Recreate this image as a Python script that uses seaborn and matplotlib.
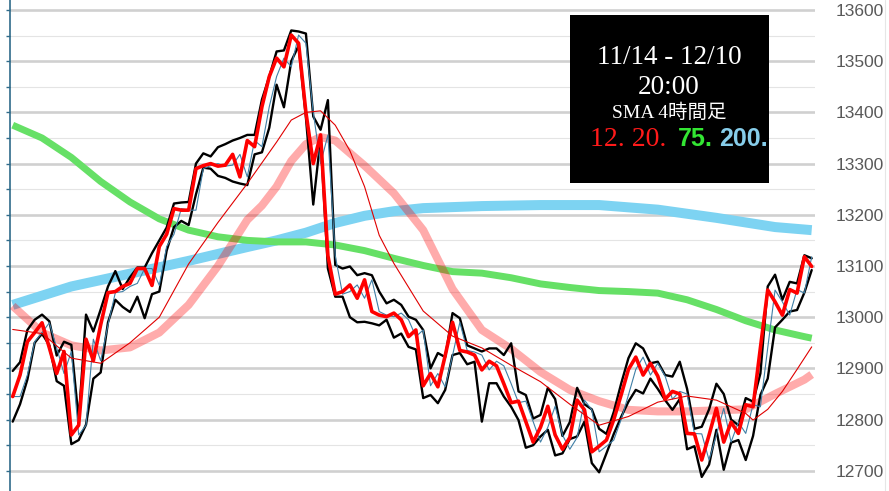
import matplotlib
matplotlib.use("Agg")
import numpy as np
import pandas as pd
import matplotlib.pyplot as plt
import seaborn as sns
from matplotlib.ticker import MultipleLocator
from matplotlib.patches import Rectangle
from matplotlib.lines import Line2D

# 4h bars, 11/14 - 12/10
close = [12845, 12887, 12952, 12970, 12989, 12940, 12890, 12933, 12770, 12789,
         12957, 12915, 12985, 13048, 13050, 13060, 13066, 13095, 13095, 13062,
         13138, 13162, 13212, 13209, 13209, 13290, 13296, 13300, 13295, 13297,
         13318, 13274, 13345, 13333, 13411, 13470, 13506, 13489, 13551, 13535,
         13400, 13300, 13356, 13120, 13045, 13050, 13063, 13037, 13073, 13011,
         13004, 13001, 13008, 12995, 12962, 12975, 12866, 12890, 12864, 12925,
         12990, 12935, 12932, 12926, 12897, 12914, 12905, 12870, 12833, 12836,
         12796, 12756, 12785, 12826, 12770, 12742, 12765, 12838, 12819, 12737,
         12748, 12760, 12800, 12848, 12898, 12922, 12887, 12910, 12885, 12840,
         12855, 12850, 12773, 12772, 12721, 12770, 12822, 12756, 12795, 12773,
         12829, 12825, 12940, 13053, 13030, 13004, 13054, 13047, 13118, 13099]

high = [12895, 12912, 12975, 12995, 13005, 12992, 12925, 12952, 12946, 12800,
        13005, 12972, 13015, 13060, 13090, 13055, 13078, 13097, 13097, 13125,
        13150, 13175, 13222, 13224, 13225, 13300, 13320, 13314, 13332, 13338,
        13345, 13350, 13356, 13356, 13425, 13470, 13519, 13521, 13560, 13558,
        13554, 13392, 13366, 13424, 13102, 13095, 13099, 13082, 13086, 13082,
        13050, 13027, 13034, 13024, 13001, 12995, 12975, 12900, 12930, 12922,
        13008, 12998, 12945, 12939, 12933, 12939, 12939, 12926, 12949, 12855,
        12848, 12802, 12809, 12862, 12840, 12768, 12795, 12862, 12830, 12820,
        12782, 12772, 12815, 12870, 12920, 12949, 12939, 12910, 12913, 12887,
        12884, 12913, 12860, 12782, 12786, 12820, 12870, 12850, 12800, 12789,
        12842, 12835, 12890, 13060, 13083, 13034, 13069, 13066, 13121, 13115]

low = [12796, 12830, 12878, 12950, 12968, 12945, 12875, 12866, 12752, 12760,
       12790, 12880, 12892, 12990, 13034, 13020, 13010, 13040, 12998, 13045,
       13050, 13130, 13176, 13188, 13180, 13240, 13292, 13290, 13276, 13272,
       13265, 13261, 13258, 13318, 13322, 13370, 13454, 13410, 13500, 13530,
       13390, 13220, 13350, 13095, 13040, 13040, 13000, 12990, 12991, 12988,
       12984, 12995, 12960, 12968, 12942, 12937, 12842, 12848, 12832, 12858,
       12926, 12930, 12908, 12913, 12796, 12871, 12871, 12845, 12825, 12799,
       12745, 12750, 12767, 12780, 12730, 12734, 12762, 12767, 12796, 12715,
       12697, 12734, 12772, 12805, 12835, 12858, 12851, 12880, 12860, 12838,
       12819, 12840, 12742, 12748, 12688, 12712, 12780, 12702, 12755, 12760,
       12721, 12768, 12848, 12880, 12980, 12995, 13011, 13014, 13048, 13092]

# moving averages, read at selected bars
sma12_bar = [0, 4, 8, 12, 16, 20, 24, 28, 32, 36, 38, 40, 42, 44, 46, 48, 50, 52,
             56, 60, 64, 68, 72, 76, 80, 84, 88, 92, 96, 100, 101, 103, 105, 107, 109]
sma12 = [12976, 12968, 12920, 12910, 12950, 13000, 13104, 13185, 13261, 13342, 13385,
         13400, 13403, 13375, 13325, 13255, 13160, 13105, 13012, 12963, 12940, 12906,
         12874, 12830, 12789, 12806, 12834, 12846, 12838, 12812, 12799, 12820, 12855,
         12898, 12942]

sma20_bar = [0, 4, 8, 12, 16, 20, 24, 28, 32, 34, 36, 38, 40, 42, 44, 48, 52, 56,
             60, 64, 68, 72, 76, 80, 84, 88, 92, 96, 100, 104, 108, 109]
sma20 = [13022, 12970, 12945, 12935, 12941, 12970, 13024, 13100, 13190, 13218, 13255,
         13305, 13338, 13352, 13345, 13296, 13242, 13170, 13055, 12975, 12938, 12893,
         12858, 12836, 12819, 12816, 12816, 12818, 12820, 12850, 12878, 12888]

sma75_bar = [0, 4, 8, 12, 16, 20, 24, 28, 32, 36, 40, 44, 48, 52, 56, 60, 64, 68,
             72, 76, 80, 84, 88, 92, 96, 100, 104, 108, 109]
sma75 = [13375, 13350, 13312, 13265, 13225, 13192, 13170, 13157, 13150, 13147, 13147,
         13141, 13130, 13115, 13101, 13089, 13086, 13077, 13065, 13058, 13052, 13050,
         13047, 13034, 13015, 12993, 12975, 12962, 12959]

sma200_bar = [0, 8, 16, 24, 32, 36, 40, 44, 48, 52, 56, 64, 72, 80, 88, 96, 104, 109]
sma200 = [13024, 13060, 13085, 13110, 13137, 13150, 13165, 13184, 13198, 13207,
          13213, 13217, 13219, 13219, 13210, 13194, 13176, 13170]

bars = np.arange(len(close))
open_ = [close[0]] + close[:-1]
df = pd.DataFrame({"bar": bars, "close": close, "high": high, "low": low, "open": open_})

sns.set_theme(style="white")
plt.rcParams["font.family"] = ["Liberation Sans", "DejaVu Sans"]

fig = plt.figure(figsize=(8.89, 4.91), dpi=100)
ax = fig.add_axes([10 / 889, 0, 805 / 889, 1])

# thick moving averages
sns.lineplot(x=sma200_bar, y=sma200, ax=ax, color="#7dd3f2", linewidth=7.2,
             sort=False, estimator=None, zorder=2, solid_capstyle="butt")
sns.lineplot(x=sma75_bar, y=sma75, ax=ax, color="#66e066", linewidth=5.0,
             sort=False, estimator=None, zorder=3, solid_capstyle="butt")
sns.lineplot(x=sma20_bar, y=sma20, ax=ax, color="#ff0000", alpha=0.33, linewidth=5.8,
             sort=False, estimator=None, zorder=4, solid_capstyle="butt")

# price lines
sns.lineplot(data=df, x="bar", y="high", ax=ax, color="black", linewidth=1.7, zorder=5)
sns.lineplot(data=df, x="bar", y="low", ax=ax, color="black", linewidth=1.7, zorder=5)
sns.lineplot(data=df, x="bar", y="open", ax=ax, color="#3f7fa6", linewidth=0.8, zorder=6)
sns.lineplot(data=df, x="bar", y="close", ax=ax, color="#ff0000", linewidth=2.6, zorder=7)
sns.lineplot(x=sma12_bar, y=sma12, ax=ax, color="#e00000", linewidth=0.8,
             sort=False, estimator=None, zorder=8)

ax.set_xlim(-0.37, 109.45)
ax.set_ylim(12660.5, 13619.5)
ax.set_xlabel("")
ax.set_ylabel("")
ax.set_xticks([])

ax.yaxis.set_major_locator(MultipleLocator(100))
ax.yaxis.set_minor_locator(MultipleLocator(50))
ax.grid(axis="y", which="major", color="#d0d0d0", linewidth=1.9, zorder=0)
ax.grid(axis="y", which="minor", color="#e4e4e4", linewidth=0.8, zorder=0)
ax.set_axisbelow(True)

ax.tick_params(axis="y", which="both", left=True, right=False, labelleft=False,
               labelright=True, direction="out", length=3, width=1, color="#2f6b8a",
               pad=11.5, labelsize=12.5, labelcolor="#595959")
ax.yaxis.set_major_formatter(matplotlib.ticker.FuncFormatter(lambda v, p: f"{v:.0f}"))

for s in ["top", "right", "bottom"]:
    ax.spines[s].set_visible(False)
ax.spines["left"].set_color("#2f6b8a")
ax.spines["left"].set_linewidth(1.2)

# right border line
fig.add_artist(Line2D([885 / 889, 885 / 889], [0, 1], color="#e6e6e6", linewidth=0.8))

# info box
fig.add_artist(Rectangle((570 / 889, 1 - 183 / 491), 199 / 889, 168 / 491,
                         facecolor="black", edgecolor="none", zorder=10))
serif = ["Liberation Serif", "Noto Sans CJK JP"]
fig.text(669 / 889, 1 - 58 / 491, "11/14 - 12/10", color="white", fontsize=19.5,
         family=serif, ha="center", va="center", zorder=11)
fig.text(669 / 889, 1 - 87 / 491, "20:00", color="white", fontsize=19.5,
         family=serif, ha="center", va="center", zorder=11)
fig.text(669 / 889, 1 - 113 / 491, "SMA 4時間足", color="white", fontsize=14,
         family=serif, ha="center", va="center", zorder=11)
fig.text(590 / 889, 1 - 139 / 491, "12. 20.", color="#ff1a1a", fontsize=20,
         family=serif, ha="left", va="center", zorder=11)
fig.text(678 / 889, 1 - 139 / 491, "75.", color="#33e633", fontsize=18,
         family="Liberation Sans", fontweight="bold", ha="left", va="center", zorder=11)
fig.text(719 / 889, 1 - 139 / 491, "200.", color="#86cdea", fontsize=18,
         family="Liberation Sans", fontweight="bold", ha="left", va="center", zorder=11)

fig.savefig("out.png", dpi=100)
